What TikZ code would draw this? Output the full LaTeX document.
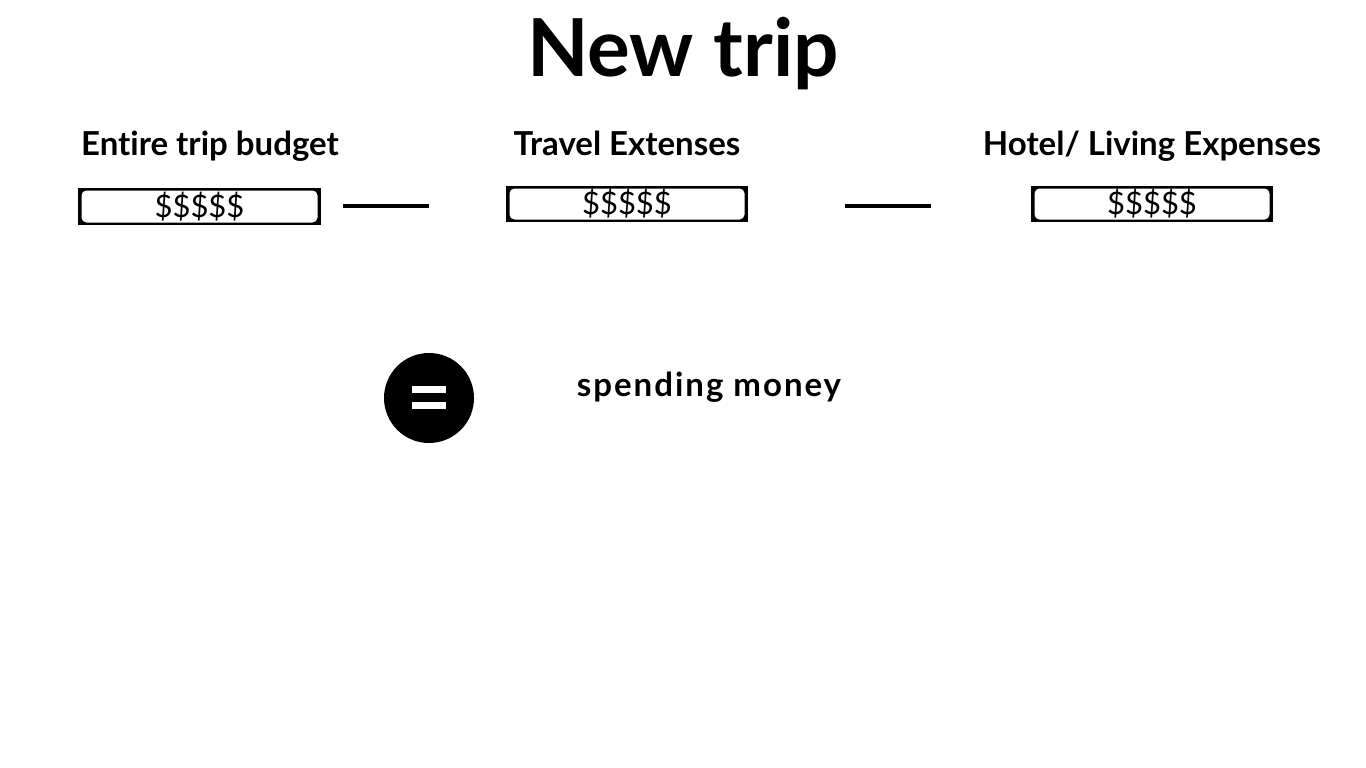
\documentclass[tikz,border=0pt]{standalone}
\usepackage{fontspec}
\setmainfont{Lato}[Ligatures=NoCommon]
\begin{document}
\begin{tikzpicture}[x=1pt,y=-1pt,
  head/.style={font=\fontsize{33}{35}\selectfont\bfseries, inner sep=0pt, anchor=base},
  money/.style={font=\fontsize{31}{33}\selectfont, inner sep=0pt},
  dash line/.style={line width=3.5pt},
]
\useasboundingbox[fill=white] (0,0) rectangle (1366,768);
% title
\node[font=\fontsize{80}{84}\selectfont\bfseries, inner sep=0pt, anchor=base] (title) at (683,77) {New trip};
% headings
\node[head] (h1) at (210,155) {Entire trip budget};
\node[head] (h2) at (627,155) {Travel Extenses};
\node[head] (h3) at (1152,155) {Hotel/ Living Expenses};
% boxes
\newcommand{\moneybox}[5]{%
  \fill[black] (#1,#2) rectangle (#3,#4);
  \fill[white,rounded corners=5pt] (#1+3.5,#2+2.5) rectangle (#3-3.5,#4-2.5);
  \node[money] (#5) at ({(#1+#3)/2},{(#2+#4)/2}) {\$\$\$\$\$};
}
\moneybox{78}{188}{321}{225}{b1}
\moneybox{506}{186}{748}{222}{b2}
\moneybox{1031}{186}{1273}{222}{b3}
% minus lines
\coordinate (m1a) at (343,206); \coordinate (m1b) at (429,206);
\coordinate (m2a) at (845,206); \coordinate (m2b) at (931,206);
\draw[dash line] (m1a) -- (m1b);
\draw[dash line] (m2a) -- (m2b);
% equals circle
\node[circle, fill=black, minimum size=90pt, inner sep=0pt] (eq) at (429,398) {};
\fill[white] (412,386) rectangle (446,393);
\fill[white] (412,402) rectangle (446,409);
% spending money
\node[head, font=\fontsize{33}{35}\selectfont\bfseries\addfontfeature{LetterSpace=6}] (sm) at (709,396) {spending money};
\end{tikzpicture}
\end{document}
